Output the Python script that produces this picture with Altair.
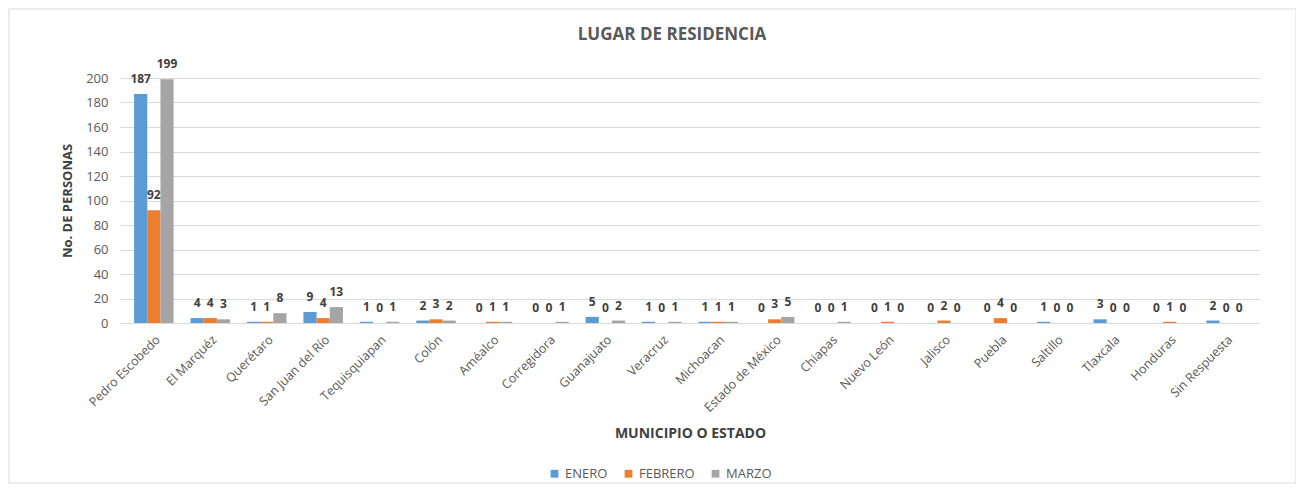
import altair as alt
import pandas as pd

categories = ["Pedro Escobedo", "El Marquéz", "Querétaro", "San Juan del Río", "Tequisquiapan",
              "Colón", "Améalco", "Corregidora", "Guanajuato", "Veracruz", "Michoacan",
              "Estado de México", "Chiapas", "Nuevo León", "Jalisco", "Puebla", "Saltillo",
              "Tlaxcala", "Honduras", "Sin Respuesta"]
enero = [187, 4, 1, 9, 1, 2, 0, 0, 5, 1, 1, 0, 0, 0, 0, 0, 1, 3, 0, 2]
febrero = [92, 4, 1, 4, 0, 3, 1, 0, 0, 0, 1, 3, 0, 1, 2, 4, 0, 0, 1, 0]
marzo = [199, 3, 8, 13, 1, 2, 1, 1, 2, 1, 1, 5, 1, 0, 0, 0, 0, 0, 0, 0]
series = ["ENERO", "FEBRERO", "MARZO"]
colors = ["#5B9BD5", "#ED7D31", "#A5A5A5"]
chart_title = "LUGAR DE RESIDENCIA"

rows = []
for i, c in enumerate(categories):
    for s, vals in zip(series, [enero, febrero, marzo]):
        rows.append({"cat": c, "serie": s, "valor": vals[i]})
df = pd.DataFrame(rows)

FONT = "Open Sans"

x = alt.X("cat:N", sort=categories,
          scale=alt.Scale(paddingInner=0.3, paddingOuter=0.25),
          axis=alt.Axis(title="MUNICIPIO O ESTADO", labelAngle=-45, labelFontSize=12.5,
                        labelColor="#595959", labelFont=FONT, domainColor="#d9d9d9",
                        ticks=False, labelPadding=10, titleFont=FONT, titleFontSize=14,
                        titleFontWeight="bold", titleColor="#404040", titleY=110,
                        titleBaseline="middle"))
y = alt.Y("valor:Q", scale=alt.Scale(domain=[0, 200]),
          axis=alt.Axis(title="No. DE PERSONAS", values=list(range(0, 201, 20)),
                        labelOverlap=False,
                        gridColor="#d9d9d9", domain=False, ticks=False, labelPadding=12,
                        labelFontSize=13, labelColor="#595959", labelFont=FONT,
                        titleFont=FONT, titleFontSize=13, titleFontWeight="bold",
                        titleColor="#404040", titlePadding=11))
color = alt.Color("serie:N", sort=series,
                  scale=alt.Scale(domain=series, range=colors),
                  legend=alt.Legend(title=None, orient="none", direction="horizontal",
                                    legendX=428, legendY=389, symbolType="square",
                                    symbolSize=60, labelFontSize=13, labelColor="#595959",
                                    labelFont=FONT, columnPadding=14, symbolStrokeWidth=0))
xo = alt.XOffset("serie:N", sort=series)

base = alt.Chart(df)
bars = base.mark_bar().encode(x=x, y=y, color=color, xOffset=xo)
labels = base.mark_text(dy=-15, fontSize=12, fontWeight="bold", color="#404040",
                        font=FONT).encode(x=x, y=y, xOffset=xo, text="valor:Q")

one = pd.DataFrame({"t": [chart_title]})
border = alt.Chart(one).mark_rect(
    fill="transparent", stroke="#d9d9d9", strokeWidth=1).encode(
    x=alt.value(-111), x2=alt.value(1176), y=alt.value(-69), y2=alt.value(405))
title = alt.Chart(one).mark_text(fontSize=17, fontWeight="bold", font=FONT,
                                 color="#595959", baseline="middle").encode(
    x=alt.value(552), y=alt.value(-43), text="t:N")

chart = alt.layer(border, title, bars, labels).properties(
    width=1140, height=245,
    autosize=alt.AutoSizeParams(type="none"),
    padding={"left": 112, "top": 70, "right": 36, "bottom": 162},
).configure_view(stroke=None)

chart.save("out.html", embed_options={"renderer": "svg", "actions": False})
